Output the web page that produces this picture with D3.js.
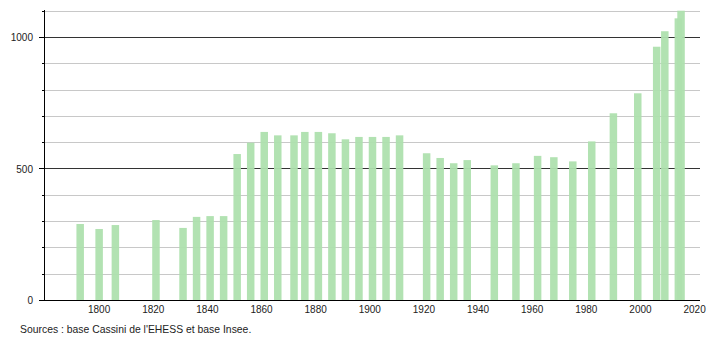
<!DOCTYPE html>
<html>
<head>
<meta charset="utf-8">
<script src="https://cdn.jsdelivr.net/npm/d3@7"></script>
<style>
  body { margin: 0; background: #fff; }
  text { font-family: "Liberation Sans", Arial, sans-serif; fill: #222; }
</style>
</head>
<body>
<div id="chart"></div>
<script>
// Census years and population
const years = [1793, 1800, 1806, 1821, 1831, 1836, 1841, 1846, 1851, 1856, 1861, 1866,
  1872, 1876, 1881, 1886, 1891, 1896, 1901, 1906, 1911, 1921, 1926, 1931, 1936, 1946,
  1954, 1962, 1968, 1975, 1982, 1990, 1999, 2006, 2009, 2014, 2015];
const population = [289, 270, 285, 304, 274, 316, 319, 319, 555, 598, 639, 626,
  626, 639, 639, 634, 611, 620, 620, 620, 626, 558, 540, 520, 532, 512,
  520, 548, 543, 527, 603, 710, 786, 963, 1022, 1071, 1100];
const xTicks = [1800, 1820, 1840, 1860, 1880, 1900, 1920, 1940, 1960, 1980, 2000, 2020];
const yLabels = [0, 500, 1000];
const yGrid = d3.range(100, 1101, 100);
const source = "Sources : base Cassini de l'EHESS et base Insee.";

const width = 710, height = 340;
const margin = { left: 44, right: 700, top: 10, bottom: 300 };

const svg = d3.select("#chart").append("svg")
  .attr("width", width).attr("height", height);

const x = d3.scaleLinear().domain([1780, 2022]).range([45, 700]);
const y = d3.scaleLinear().domain([0, 1100]).range([margin.bottom, margin.bottom - 289.3]);

// Gridlines
svg.append("g").selectAll("line")
  .data(yGrid)
  .join("line")
  .attr("x1", margin.left).attr("x2", margin.right)
  .attr("y1", d => Math.round(y(d)) + 0.5).attr("y2", d => Math.round(y(d)) + 0.5)
  .attr("stroke", d => d % 500 === 0 ? "#333" : "#c8c8c8")
  .attr("stroke-width", 1);

// Bars
const barW = 7.5;
svg.append("g").selectAll("rect")
  .data(years)
  .join("rect")
  .attr("x", d => x(d) - barW / 2)
  .attr("width", barW)
  .attr("y", (d, i) => y(population[i]))
  .attr("height", (d, i) => margin.bottom - y(population[i]))
  .attr("fill", "#aee0ae")
  .attr("opacity", 0.95);

// Y axis
svg.append("line")
  .attr("x1", margin.left + 0.5).attr("x2", margin.left + 0.5)
  .attr("y1", margin.top).attr("y2", margin.bottom)
  .attr("stroke", "#000");

svg.append("g").selectAll("line")
  .data(d3.range(0, 1101, 100))
  .join("line")
  .attr("x1", d => d % 500 === 0 ? margin.left - 5 : margin.left - 2).attr("x2", margin.left)
  .attr("y1", d => Math.round(y(d)) + 0.5).attr("y2", d => Math.round(y(d)) + 0.5)
  .attr("stroke", "#000");

svg.append("g").selectAll("text")
  .data(yLabels)
  .join("text")
  .attr("x", 33)
  .attr("y", d => y(d) + 4)
  .attr("text-anchor", "end")
  .style("font-size", "10px")
  .text(d => d);

// X axis
svg.append("line")
  .attr("x1", margin.left).attr("x2", margin.right)
  .attr("y1", margin.bottom + 0.5).attr("y2", margin.bottom + 0.5)
  .attr("stroke", "#000");

svg.append("g").selectAll("text")
  .data(xTicks)
  .join("text")
  .attr("x", d => x(d))
  .attr("y", 313)
  .attr("text-anchor", "middle")
  .style("font-size", "10px")
  .text(d => d);

// Source
svg.append("text")
  .attr("x", 20)
  .attr("y", 333)
  .style("font-size", "10.4px")
  .text(source);
</script>
</body>
</html>
